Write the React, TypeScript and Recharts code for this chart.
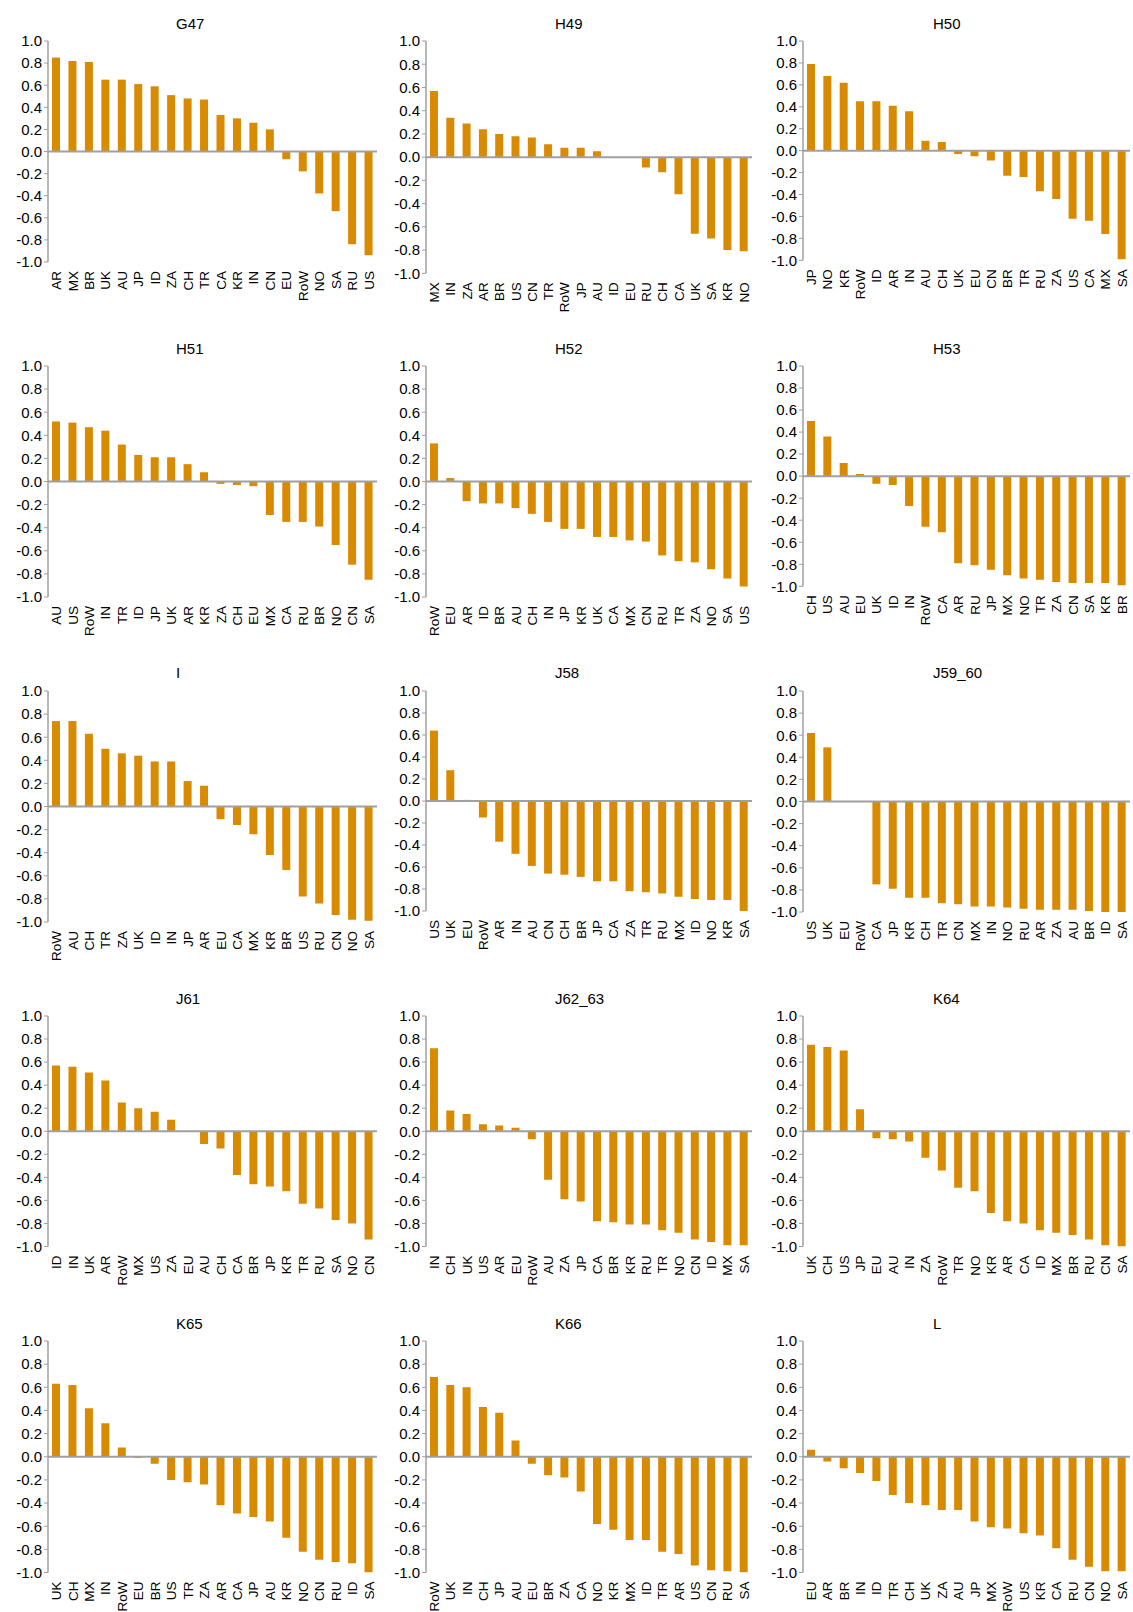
import React from "react"
import { BarChart, Bar, XAxis, YAxis, ReferenceLine } from "recharts"

// categories and values per sector panel
const g47Cats = ["AR", "MX", "BR", "UK", "AU", "JP", "ID", "ZA", "CH", "TR", "CA", "KR", "IN", "CN", "EU", "RoW", "NO", "SA", "RU", "US"]
const g47Vals = [0.85, 0.82, 0.81, 0.65, 0.65, 0.61, 0.59, 0.51, 0.48, 0.47, 0.33, 0.3, 0.26, 0.2, -0.07, -0.18, -0.38, -0.54, -0.84, -0.94]

const h49Cats = ["MX", "IN", "ZA", "AR", "BR", "US", "CN", "TR", "RoW", "JP", "AU", "ID", "EU", "RU", "CH", "CA", "UK", "SA", "KR", "NO"]
const h49Vals = [0.57, 0.34, 0.29, 0.24, 0.2, 0.18, 0.17, 0.11, 0.08, 0.08, 0.05, 0, 0, -0.09, -0.13, -0.32, -0.66, -0.7, -0.8, -0.81]

const h50Cats = ["JP", "NO", "KR", "RoW", "ID", "AR", "IN", "AU", "CH", "UK", "EU", "CN", "BR", "TR", "RU", "ZA", "US", "CA", "MX", "SA"]
const h50Vals = [0.79, 0.68, 0.62, 0.45, 0.45, 0.41, 0.36, 0.09, 0.08, -0.03, -0.05, -0.09, -0.23, -0.24, -0.37, -0.44, -0.62, -0.64, -0.76, -0.99]

const h51Cats = ["AU", "US", "RoW", "IN", "TR", "ID", "JP", "UK", "AR", "KR", "ZA", "CH", "EU", "MX", "CA", "RU", "BR", "NO", "CN", "SA"]
const h51Vals = [0.52, 0.51, 0.47, 0.44, 0.32, 0.23, 0.21, 0.21, 0.15, 0.08, -0.02, -0.03, -0.04, -0.29, -0.35, -0.35, -0.39, -0.55, -0.72, -0.85]

const h52Cats = ["RoW", "EU", "AR", "ID", "BR", "AU", "CH", "IN", "JP", "KR", "UK", "CA", "MX", "CN", "RU", "TR", "ZA", "NO", "SA", "US"]
const h52Vals = [0.33, 0.03, -0.17, -0.19, -0.19, -0.23, -0.28, -0.35, -0.41, -0.41, -0.48, -0.48, -0.51, -0.52, -0.64, -0.69, -0.7, -0.76, -0.84, -0.91]

const h53Cats = ["CH", "US", "AU", "EU", "UK", "ID", "IN", "RoW", "CA", "AR", "RU", "JP", "MX", "NO", "TR", "ZA", "CN", "SA", "KR", "BR"]
const h53Vals = [0.5, 0.36, 0.12, 0.02, -0.07, -0.08, -0.27, -0.46, -0.51, -0.79, -0.81, -0.85, -0.9, -0.93, -0.94, -0.96, -0.97, -0.97, -0.97, -0.99]

const iCats = ["RoW", "AU", "CH", "TR", "ZA", "UK", "ID", "IN", "JP", "AR", "EU", "CA", "MX", "KR", "BR", "US", "RU", "CN", "NO", "SA"]
const iVals = [0.74, 0.74, 0.63, 0.5, 0.46, 0.44, 0.39, 0.39, 0.22, 0.18, -0.11, -0.16, -0.24, -0.42, -0.55, -0.78, -0.84, -0.94, -0.98, -0.99]

const j58Cats = ["US", "UK", "EU", "RoW", "AR", "IN", "AU", "CN", "CH", "BR", "JP", "CA", "ZA", "TR", "RU", "MX", "ID", "NO", "KR", "SA"]
const j58Vals = [0.64, 0.28, 0.01, -0.15, -0.37, -0.48, -0.59, -0.66, -0.67, -0.69, -0.73, -0.73, -0.82, -0.83, -0.84, -0.87, -0.89, -0.9, -0.9, -1.0]

const j5960Cats = ["US", "UK", "EU", "RoW", "CA", "JP", "KR", "CH", "TR", "CN", "MX", "IN", "NO", "RU", "AR", "ZA", "AU", "BR", "ID", "SA"]
const j5960Vals = [0.62, 0.49, 0, 0, -0.75, -0.79, -0.87, -0.87, -0.92, -0.93, -0.95, -0.95, -0.96, -0.97, -0.98, -0.98, -0.98, -0.99, -1.0, -1.0]

const j61Cats = ["ID", "IN", "UK", "AR", "RoW", "MX", "US", "ZA", "EU", "AU", "CH", "CA", "BR", "JP", "KR", "TR", "RU", "SA", "NO", "CN"]
const j61Vals = [0.57, 0.56, 0.51, 0.44, 0.25, 0.2, 0.17, 0.1, 0, -0.11, -0.15, -0.38, -0.46, -0.48, -0.52, -0.63, -0.67, -0.77, -0.8, -0.94]

const j6263Cats = ["IN", "CH", "UK", "US", "AR", "EU", "RoW", "AU", "ZA", "JP", "CA", "BR", "KR", "RU", "TR", "NO", "CN", "ID", "MX", "SA"]
const j6263Vals = [0.72, 0.18, 0.15, 0.06, 0.05, 0.03, -0.07, -0.42, -0.59, -0.61, -0.78, -0.79, -0.81, -0.81, -0.86, -0.88, -0.94, -0.96, -0.99, -0.99]

const k64Cats = ["UK", "CH", "US", "JP", "EU", "AU", "IN", "ZA", "RoW", "TR", "NO", "KR", "AR", "CA", "ID", "MX", "BR", "RU", "CN", "SA"]
const k64Vals = [0.75, 0.73, 0.7, 0.19, -0.06, -0.07, -0.09, -0.23, -0.34, -0.49, -0.52, -0.71, -0.78, -0.8, -0.86, -0.88, -0.9, -0.94, -0.99, -1.0]

const k65Cats = ["UK", "CH", "MX", "IN", "RoW", "EU", "BR", "US", "TR", "ZA", "AR", "CA", "JP", "AU", "KR", "NO", "CN", "RU", "ID", "SA"]
const k65Vals = [0.63, 0.62, 0.42, 0.29, 0.08, -0.01, -0.06, -0.2, -0.22, -0.24, -0.42, -0.49, -0.52, -0.56, -0.7, -0.82, -0.89, -0.91, -0.92, -1.0]

const k66Cats = ["RoW", "UK", "IN", "CH", "JP", "AU", "EU", "BR", "ZA", "CA", "NO", "KR", "MX", "ID", "TR", "AR", "US", "CN", "RU", "SA"]
const k66Vals = [0.69, 0.62, 0.6, 0.43, 0.38, 0.14, -0.06, -0.16, -0.18, -0.3, -0.58, -0.63, -0.72, -0.72, -0.82, -0.84, -0.94, -0.98, -0.99, -1.0]

const lCats = ["EU", "AR", "BR", "IN", "ID", "TR", "CH", "UK", "ZA", "AU", "JP", "MX", "RoW", "US", "KR", "CA", "RU", "CN", "NO", "SA"]
const lVals = [0.06, -0.04, -0.1, -0.14, -0.21, -0.33, -0.4, -0.42, -0.46, -0.46, -0.56, -0.61, -0.62, -0.66, -0.68, -0.79, -0.89, -0.95, -0.99, -0.99]

const yTicks = [-1, -0.8, -0.6, -0.4, -0.2, 0, 0.2, 0.4, 0.6, 0.8, 1]

const BAR_COLOR = "#D88A00"
const AXIS_COLOR = "#A0A0A0"
const FONT = '"Liberation Sans", Arial, sans-serif'

// layout of the 5x3 grid
const COLS = [
  { left: 0, plotLeft: 48, plotRight: 377, titleX: 176 },
  { left: 377, plotLeft: 426, plotRight: 752, titleX: 555 },
  { left: 753, plotLeft: 803, plotRight: 1130, titleX: 933 },
]
const ROWS = [
  { plotTop: 40.7, titleY: 29.3 },
  { plotTop: 365.7, titleY: 354 },
  { plotTop: 690.7, titleY: 678 },
  { plotTop: 1016.3, titleY: 1004 },
  { plotTop: 1341, titleY: 1329 },
]

const panels = [
  { title: "G47", cats: g47Cats, vals: g47Vals, row: 0, col: 0, plotBottom: 261.7 },
  { title: "H49", cats: h49Cats, vals: h49Vals, row: 0, col: 1, plotBottom: 273 },
  { title: "H50", cats: h50Cats, vals: h50Vals, row: 0, col: 2, plotBottom: 260 },
  { title: "H51", cats: h51Cats, vals: h51Vals, row: 1, col: 0, plotBottom: 596.7 },
  { title: "H52", cats: h52Cats, vals: h52Vals, row: 1, col: 1, plotBottom: 596.7 },
  { title: "H53", cats: h53Cats, vals: h53Vals, row: 1, col: 2, plotBottom: 586 },
  { title: "I", cats: iCats, vals: iVals, row: 2, col: 0, plotBottom: 921.7 },
  { title: "J58", cats: j58Cats, vals: j58Vals, row: 2, col: 1, plotBottom: 910.7 },
  { title: "J59_60", cats: j5960Cats, vals: j5960Vals, row: 2, col: 2, plotBottom: 911.7 },
  { title: "J61", cats: j61Cats, vals: j61Vals, row: 3, col: 0, plotBottom: 1246.8 },
  { title: "J62_63", cats: j6263Cats, vals: j6263Vals, row: 3, col: 1, plotBottom: 1246.8 },
  { title: "K64", cats: k64Cats, vals: k64Vals, row: 3, col: 2, plotBottom: 1246.8 },
  { title: "K65", cats: k65Cats, vals: k65Vals, row: 4, col: 0, plotBottom: 1572.5 },
  { title: "K66", cats: k66Cats, vals: k66Vals, row: 4, col: 1, plotBottom: 1572.5 },
  { title: "L", cats: lCats, vals: lVals, row: 4, col: 2, plotBottom: 1572.5 },
]

const CatTick = (props: any) => {
  const { x, y, payload } = props
  return (
    <text
      x={x}
      y={y}
      transform={`rotate(-90, ${x}, ${y})`}
      textAnchor="end"
      dy="0.36em"
      fontSize={13.5}
      fontFamily={FONT}
      fill="#000"
    >
      {payload.value}
    </text>
  )
}

function Panel({ panel }: { panel: (typeof panels)[number] }) {
  const col = COLS[panel.col]
  const row = ROWS[panel.row]
  const top = row.plotTop - 10
  const width = col.plotRight + 3 - col.left
  const height = panel.plotBottom - top + 50
  const data = panel.cats.map((cat, i) => ({ cat, v: panel.vals[i] }))

  return (
    <div style={{ position: "absolute", left: col.left, top, width, height }}>
      <BarChart
        width={width}
        height={height}
        data={data}
        margin={{ top: 10, right: 3, left: 0, bottom: 0 }}
      >
        <XAxis
          dataKey="cat"
          interval={0}
          axisLine={false}
          tickLine={false}
          tickSize={0}
          tickMargin={9}
          height={50}
          tick={CatTick}
        />
        <YAxis
          width={col.plotLeft - col.left}
          domain={[-1, 1]}
          ticks={yTicks}
          interval={0}
          allowDataOverflow
          tickFormatter={(v: number) => v.toFixed(1)}
          axisLine={{ stroke: AXIS_COLOR, strokeWidth: 1.5 }}
          tickLine={{ stroke: AXIS_COLOR, strokeWidth: 1 }}
          tickSize={4}
          tickMargin={2}
          tick={{ fill: "#000", fontSize: 15, fontFamily: FONT }}
        />
        <Bar dataKey="v" fill={BAR_COLOR} barSize={8} isAnimationActive={false} />
        <ReferenceLine y={0} stroke={AXIS_COLOR} strokeWidth={2} />
      </BarChart>
    </div>
  )
}

export default function App() {
  return (
    <div
      style={{
        position: "absolute",
        left: 0,
        top: 0,
        width: 1133,
        height: 1612,
        overflow: "hidden",
        background: "#fff",
        fontFamily: FONT,
      }}
    >
      {panels.map((p) => (
        <Panel key={p.title} panel={p} />
      ))}
      <svg
        width={1133}
        height={1612}
        style={{ position: "absolute", left: 0, top: 0, pointerEvents: "none" }}
      >
        {panels.map((p) => (
          <text
            key={p.title}
            x={COLS[p.col].titleX}
            y={ROWS[p.row].titleY}
            fontSize={15}
            fontFamily={FONT}
            fill="#000"
          >
            {p.title}
          </text>
        ))}
      </svg>
    </div>
  )
}
